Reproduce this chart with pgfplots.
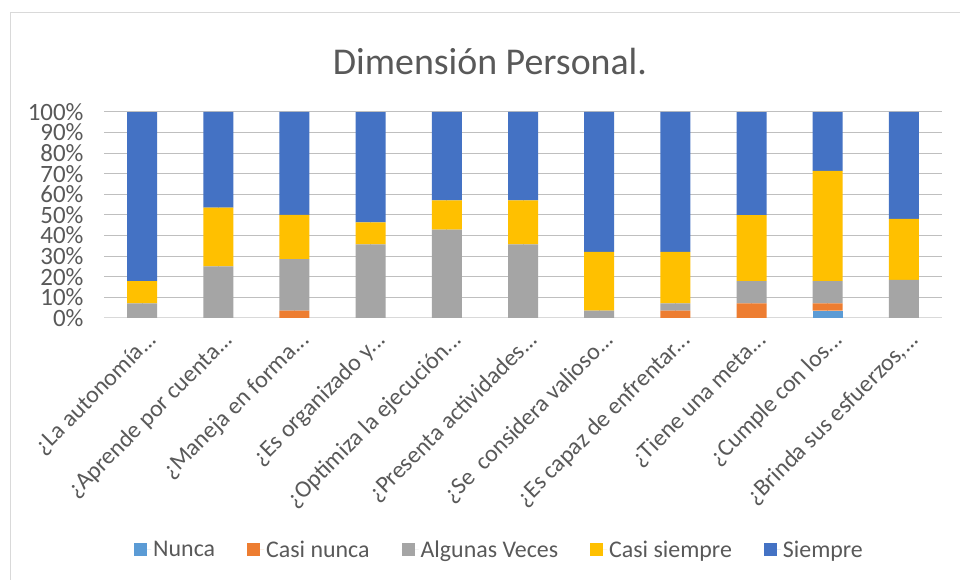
\documentclass[border=0pt]{standalone}
\usepackage{pgfplots}
\pgfplotsset{compat=1.18}
\usepackage{fontspec}
\setmainfont{Carlito}
\newcommand\el{...}
\definecolor{cNunca}{HTML}{5B9BD5}
\definecolor{cCasiNunca}{HTML}{ED7D31}
\definecolor{cAlgunas}{HTML}{A5A5A5}
\definecolor{cCasiSiempre}{HTML}{FFC000}
\definecolor{cSiempre}{HTML}{4472C4}
\definecolor{txt}{HTML}{595959}
\definecolor{grid}{HTML}{D9D9D9}
\begin{document}
\begin{tikzpicture}[x=1bp,y=1bp]
\useasboundingbox (0,0) rectangle (960,580);
\fill[white] (0,0) rectangle (960,580);
\draw[grid, line width=1bp] (10,-10) -- (10,567) -- (970,567);
\node[txt, font=\fontsize{38}{40}\selectfont] at (490,518) {Dimensión Personal.};
\begin{axis}[
  at={(104bp,262bp)}, anchor=south west,
  scale only axis, width=838bp, height=206bp,
  ybar stacked, bar width=30bp,
  xmin=-0.5, xmax=10.5, ymin=0, ymax=100,
  xtick={0,1,2,3,4,5,6,7,8,9,10},
  xticklabels={{¿La autonomía\el},{¿Aprende por cuenta\el},{¿Maneja en forma\el},{¿Es organizado y\el},{¿Optimiza la ejecución\el},{¿Presenta actividades\el},{¿Se\ \ considera valioso\el},{¿Es capaz de enfrentar\el},{¿Tiene una meta\el},{¿Cumple con los\el},{¿Brinda sus esfuerzos,\el}},
  x tick label style={rotate=45, anchor=north east, font=\fontsize{24}{26}\selectfont, text=txt, xshift=-1.5bp, yshift=-7.5bp},
  ytick={0,10,20,30,40,50,60,70,80,90,100},
  yticklabel={\pgfmathprintnumber{\tick}\%},
  y tick label style={font=\fontsize{25}{27}\selectfont, text=txt, xshift=-17bp},
  /pgf/number format/assume math mode=true,
  ymajorgrids, grid style={grid, line width=1bp},
  axis x line*=bottom, axis y line*=left,
  x axis line style={grid, line width=1bp},
  y axis line style={draw=none},
  major tick length=0pt,
  xtick style={draw=none}, ytick style={draw=none},
  legend columns=5,
  legend style={at={(0.472,-1.126)}, anchor=center, draw=none, fill=none,
    nodes={font=\fontsize{24}{26}\selectfont, text=txt},
    /tikz/every even column/.append style={column sep=30bp}},
  legend image code/.code={\fill[#1] (0bp,-6.5bp) rectangle (13bp,6.5bp); \path (0bp,0bp) -- (17bp,0bp);},
  clip=false,
]
\addplot[fill=cNunca, draw=none] coordinates {(0,0) (1,0) (2,0) (3,0) (4,0) (5,0) (6,0) (7,0) (8,0) (9,3.57) (10,0)};
\addplot[fill=cCasiNunca, draw=none] coordinates {(0,0) (1,0) (2,3.57) (3,0) (4,0) (5,0) (6,0) (7,3.57) (8,7.14) (9,3.57) (10,0)};
\addplot[fill=cAlgunas, draw=none] coordinates {(0,7.14) (1,25) (2,25) (3,35.71) (4,42.86) (5,35.71) (6,3.57) (7,3.57) (8,10.71) (9,10.71) (10,18.52)};
\addplot[fill=cCasiSiempre, draw=none] coordinates {(0,10.71) (1,28.57) (2,21.43) (3,10.71) (4,14.29) (5,21.43) (6,28.57) (7,25) (8,32.14) (9,53.57) (10,29.63)};
\addplot[fill=cSiempre, draw=none] coordinates {(0,82.14) (1,46.43) (2,50) (3,53.57) (4,42.86) (5,42.86) (6,67.86) (7,67.86) (8,50) (9,28.57) (10,51.85)};
\legend{Nunca, Casi nunca, Algunas Veces, Casi siempre, Siempre}
\end{axis}
\end{tikzpicture}
\end{document}
